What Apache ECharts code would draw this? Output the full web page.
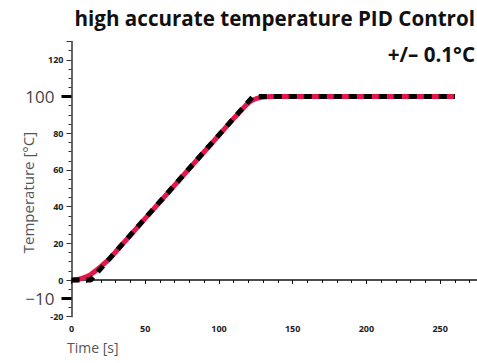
<!DOCTYPE html>
<html>
<head>
<meta charset="utf-8">
<script src="https://cdn.jsdelivr.net/npm/echarts@6/dist/echarts.min.js"></script>
<style>
html,body{margin:0;padding:0;background:#fff;}
#chart{width:477px;height:363px;}
</style>
</head>
<body>
<div id="chart"></div>
<script>
// ---- data ----
const titleText = 'high accurate temperature PID Control';
const subtitleText = '+/\u2013 0.1\u00B0C';
const xAxisName = 'Time [s]';
const yAxisName = 'Temperature [\u00B0C]';

// setpoint ramp (black dashed)
const setpointTime = [0, 13, 123, 260];
const setpointTemp = [0, 0, 100, 100];

// measured temperature (red)
const measuredTime = [0, 5, 10, 13, 16, 20, 25, 30, 40, 60, 80, 100, 110, 115, 118, 121, 125, 130, 136, 150, 200, 260];
const measuredTemp = [0, 0.4, 1.8, 3, 4.8, 7.4, 11, 15.4, 24.5, 42.6, 60.8, 79, 88.1, 92.4, 95, 97.2, 98.8, 99.7, 100, 100, 100, 100];

const yTickLabels = [-20, 0, 20, 40, 60, 80, 120];
const yBigLabels = [-10, 100];
const xTickLabels = [0, 50, 100, 150, 200, 250];

// ---- chart ----
const setpoint = setpointTime.map((t, i) => [t, setpointTemp[i]]);
const measured = measuredTime.map((t, i) => [t, measuredTemp[i]]);

const chart = echarts.init(document.getElementById('chart'), null, {renderer: 'svg'});
const smallLabel = {fontFamily: 'Open Sans', fontWeight: 'bold', fontSize: 9, color: '#222'};
const titleStyle = {fontFamily: 'Open Sans', fontWeight: 'bold', fontSize: 20.6, color: '#111'};

chart.setOption({
  animation: false,
  title: [{
    text: titleText,
    right: 2,
    top: 7,
    padding: 0,
    textStyle: titleStyle
  }, {
    text: subtitleText,
    right: 2,
    top: 43,
    padding: 0,
    textStyle: titleStyle
  }, {
    text: xAxisName,
    left: 67,
    top: 340,
    padding: 0,
    textStyle: {fontFamily: 'Open Sans', fontWeight: 'normal', fontSize: 14, color: '#555'}
  }],
  grid: {left: 71.5, right: 0, top: 41.5, bottom: 46.3, containLabel: false},
  xAxis: {
    type: 'value',
    min: 0, max: 275, interval: 50,
    splitLine: {show: false},
    axisLine: {lineStyle: {color: '#111', width: 1.5}},
    axisTick: {show: true, inside: false, length: 4, lineStyle: {color: '#111', width: 1}},
    minorTick: {show: true, splitNumber: 5, length: 3, lineStyle: {color: '#111', width: 1}},
    axisLabel: Object.assign({margin: 7, customValues: xTickLabels}, smallLabel)
  },
  yAxis: [{
    type: 'value',
    min: -20, max: 130, interval: 20,
    name: yAxisName,
    nameLocation: 'middle',
    nameRotate: 90,
    nameGap: 36,
    nameTextStyle: {fontFamily: 'Open Sans', fontSize: 15, color: '#555', padding: [0, 27, 0, 0]},
    splitLine: {show: false},
    axisLine: {lineStyle: {color: '#333', width: 1.5}},
    axisTick: {show: true, length: 5, lineStyle: {color: '#333', width: 1}},
    minorTick: {show: true, splitNumber: 4, length: 3, lineStyle: {color: '#333', width: 1}},
    axisLabel: Object.assign({margin: 8, customValues: yTickLabels}, smallLabel)
  }, {
    type: 'value',
    min: -20, max: 130,
    position: 'left',
    splitLine: {show: false},
    axisLine: {show: false},
    axisTick: {show: true, length: 10, customValues: yBigLabels, lineStyle: {color: '#000', width: 3}},
    axisLabel: {
      customValues: yBigLabels, margin: 17,
      fontFamily: 'Open Sans', fontWeight: 'normal', fontSize: 17, color: '#444',
      formatter: v => (v < 0 ? '\u2212' + Math.abs(v) : String(v))
    }
  }],
  series: [{
    type: 'line',
    data: measured,
    showSymbol: false,
    smooth: 0.3,
    lineStyle: {color: '#e4174b', width: 5},
    z: 2
  }, {
    type: 'line',
    data: setpoint,
    showSymbol: false,
    lineStyle: {color: '#000', width: 5, type: [8, 7], cap: 'butt'},
    z: 3
  }]
});
</script>
</body>
</html>
